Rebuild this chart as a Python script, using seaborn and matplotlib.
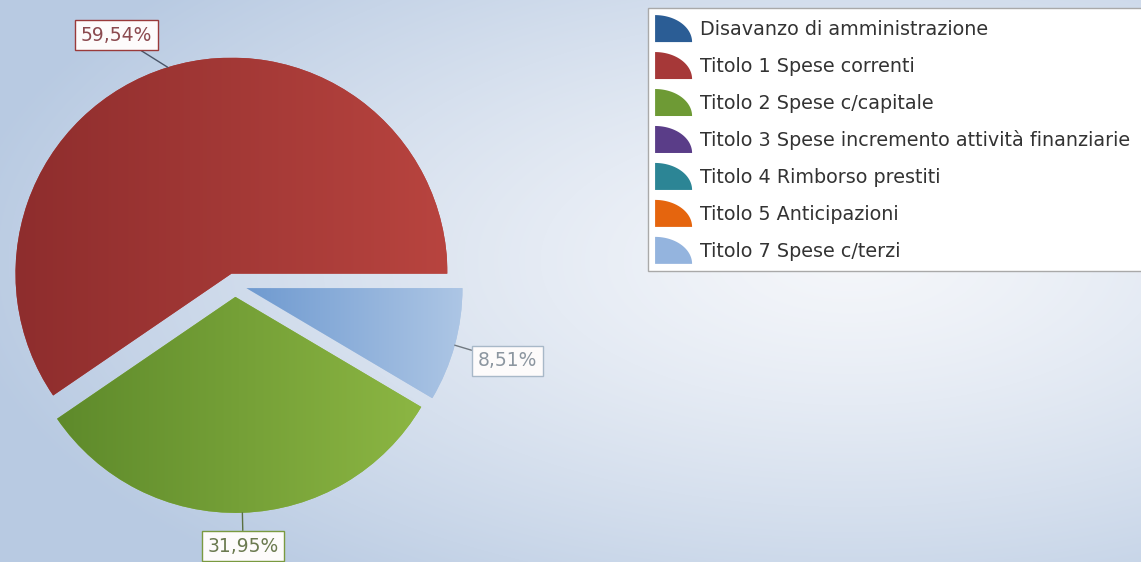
import numpy as np
import matplotlib
matplotlib.use("Agg")
import matplotlib.pyplot as plt
import seaborn as sns
from matplotlib.colors import LinearSegmentedColormap, to_rgb
from matplotlib.patches import Polygon, Patch
from matplotlib.legend_handler import HandlerPatch

# ---------------- data ----------------
categories = [
    "Disavanzo di amministrazione",
    "Titolo 1 Spese correnti",
    "Titolo 2 Spese c/capitale",
    "Titolo 3 Spese incremento attività finanziarie",
    "Titolo 4 Rimborso prestiti",
    "Titolo 5 Anticipazioni",
    "Titolo 7 Spese c/terzi",
]
shares = [0.0, 59.54, 31.95, 0.0, 0.0, 0.0, 8.51]

# ---------------- styles ----------------
legend_colors = ["#2b5d95", "#a63838", "#6e9a35", "#5a3d88", "#2c8595", "#e5650e", "#94b4de"]
dark_colors = ["#244f82", "#8e2d2d", "#5e8a2b", "#4b3276", "#237282", "#c8560b", "#6f9ad0"]
light_colors = ["#3a72ad", "#b8443f", "#8cb643", "#6c4d9c", "#3a9aab", "#f07a20", "#adc6e5"]
label_text_colors = ["#555", "#8b4a4f", "#6b7a50", "#555", "#555", "#555", "#8c96a0"]
label_edge_colors = ["#555", "#9a3a3a", "#7a9a40", "#555", "#555", "#555", "#a8b8c8"]
line_colors = ["#555", "#4a5568", "#5a7040", "#555", "#555", "#555", "#707880"]

sns.set_theme(style="white")
plt.rcParams["font.family"] = ["DejaVu Sans"]

W, H = 1141, 562
fig = plt.figure(figsize=(W / 100, H / 100), dpi=100)

# background radial gradient
bg = fig.add_axes([0, 0, 1, 1], zorder=-5)
yy, xx = np.mgrid[0:H, 0:W]
d = np.sqrt(((xx - 850) / 900.0) ** 2 + ((yy - 260) / 420.0) ** 2)
t = np.clip(d, 0, 1) ** 1.3
c0 = np.array(to_rgb("#f4f6fa"))
c1 = np.array(to_rgb("#b8cae2"))
img = c0 + (c1 - c0) * t[..., None]
bg.imshow(img, extent=[0, 1, 0, 1], aspect="auto", origin="upper")
bg.set_axis_off()

# pie axes: centre at (235, 285) px, radius 216 px
L = 1.3
side = 2 * L * 216
ax = fig.add_axes([(235 - side / 2) / W, (H - 285 - side / 2) / H, side / W, side / H])
ax.patch.set_alpha(0)

idx = [i for i, v in enumerate(shares) if v > 0]
vals = [shares[i] for i in idx]
wedges, _ = ax.pie(vals, explode=[0.055] * len(vals), startangle=0, counterclock=True,
                   radius=1, wedgeprops=dict(linewidth=0))

grad = np.linspace(0, 1, 256).reshape(1, -1)
for w, i in zip(wedges, idx):
    w.set_facecolor(light_colors[i])
    ext = w.get_path().get_extents()
    cmap = LinearSegmentedColormap.from_list("g%d" % i, [dark_colors[i], light_colors[i]])
    im = ax.imshow(grad, extent=[ext.x0, ext.x1, ext.y0, ext.y1], cmap=cmap,
                   aspect="auto", origin="lower", interpolation="bilinear",
                   zorder=w.get_zorder() + 0.01)
    im.set_clip_path(w)

for w, i in zip(wedges, idx):
    th = np.deg2rad((w.theta1 + w.theta2) / 2)
    c, s = np.cos(th), np.sin(th)
    cx, cy = w.center
    xy = (cx + w.r * c, cy + w.r * s)
    xt = (cx + 1.11 * c - (0.04 if c < -0.2 else 0), cy + 1.11 * s)
    ha = "left" if c > 0.2 else ("right" if c < -0.2 else "center")
    va = "bottom" if s > 0 else "top"
    txt = ("%.2f" % shares[i]).replace(".", ",") + "%"
    ax.annotate(txt, xy=xy, xytext=xt, ha=ha, va=va, fontsize=13.5,
                color=label_text_colors[i], zorder=10,
                bbox=dict(boxstyle="square,pad=0.3", fc="#fdfbfb", ec=label_edge_colors[i], lw=1),
                arrowprops=dict(arrowstyle="-", color=line_colors[i], lw=1, shrinkA=0, shrinkB=0),
                annotation_clip=False)

ax.set_xlim(-L, L)
ax.set_ylim(-L, L)
ax.set_aspect("equal")
ax.set_axis_off()


# legend with quarter-circle icons
def quarter(legend, orig_handle, xdescent, ydescent, width, height, fontsize):
    x0, y0 = -xdescent, -ydescent
    tt = np.linspace(0, np.pi / 2, 40)
    pts = [(x0, y0)] + [(x0 + width * np.sin(a), y0 + height * np.cos(a)) for a in tt]
    return Polygon(pts, closed=True)


handles = [Patch(facecolor=col, edgecolor="none") for col in legend_colors]
leg = fig.legend(handles, categories, loc="upper left", mode="expand",
                 bbox_to_anchor=(648 / W, 0, 520 / W, 1 - 8 / H), bbox_transform=fig.transFigure,
                 frameon=True, fancybox=False, edgecolor="#a9a9a9", facecolor="white",
                 framealpha=1, fontsize=13.8, handlelength=1.93, handleheight=1.79,
                 handletextpad=0.42, labelspacing=0.52, borderpad=0.37, borderaxespad=0,
                 handler_map={Patch: HandlerPatch(patch_func=quarter)})
leg.get_frame().set_linewidth(1)
for tx in leg.get_texts():
    tx.set_color("#333333")

fig.savefig("out.png", dpi=100)
